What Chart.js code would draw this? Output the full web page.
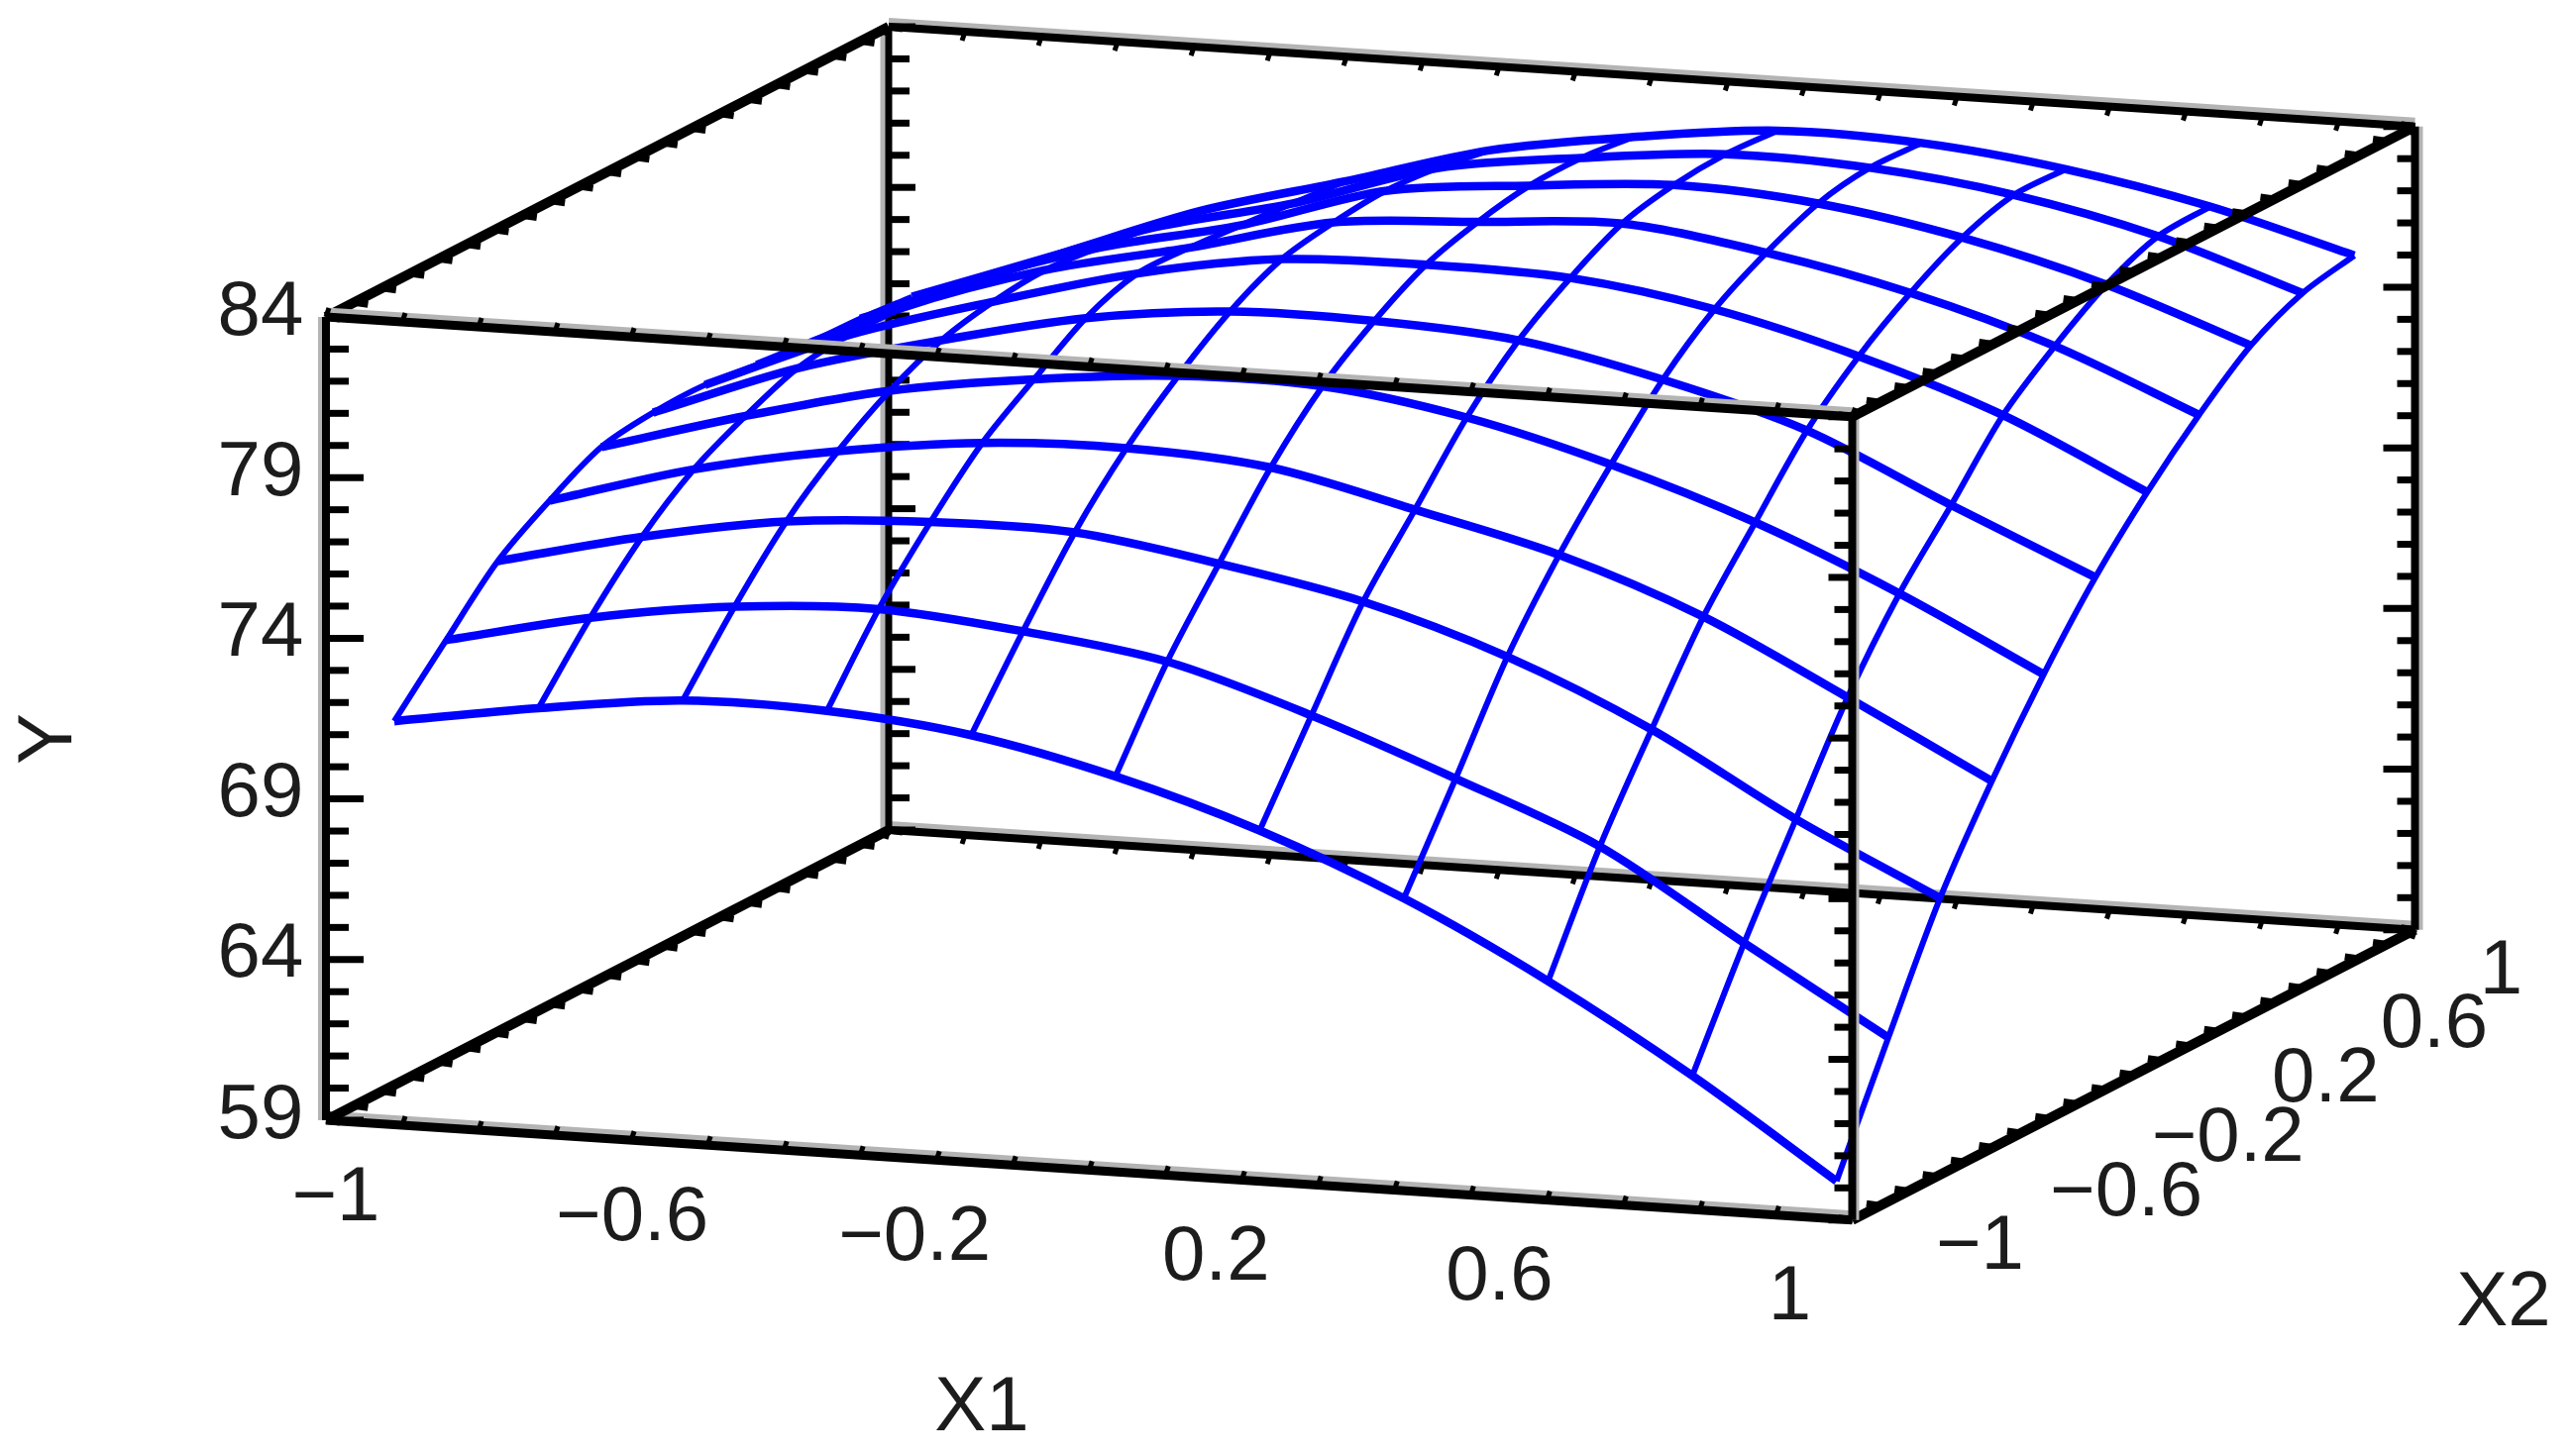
<!DOCTYPE html>
<html>

<head>
    <title>Response surface Y over X1 and X2</title>
    <style>
        body { margin: 0; background: #fff; overflow: hidden; }
        canvas { display: block; filter: blur(0.7px); }
    </style>
</head>

<body>
    <canvas id="myChart" width="2598" height="1470"></canvas>
    <script src="https://cdn.jsdelivr.net/npm/chart.js@4"></script>

    <script type="text/javascript">
        // grid positions of the surface
        const x1Grid = [-0.94, -0.751, -0.562, -0.373, -0.184, 0.005, 0.194, 0.383, 0.572, 0.761, 0.95];
        const x2Grid = [-0.92, -0.736, -0.552, -0.368, -0.184, 0, 0.184, 0.368, 0.552, 0.736, 0.92];

        // Y along X2, one list per X1 grid position
        const yRow0 = [71.15, 72.84, 74.47, 75.52, 76.36, 76.60, 76.63, 76.42, 76.26, 76.20, 76.05];
        const yRow1 = [71.85, 73.83, 75.52, 76.79, 77.62, 78.27, 78.48, 78.48, 78.33, 77.96, 77.65];
        const yRow2 = [72.38, 74.47, 76.29, 77.65, 78.70, 79.44, 79.81, 79.96, 79.81, 79.59, 79.31];
        const yRow3 = [72.35, 74.69, 76.57, 78.20, 79.35, 80.42, 80.98, 80.95, 80.82, 80.67, 80.52];
        const yRow4 = [71.89, 74.29, 76.54, 78.33, 79.75, 80.92, 81.72, 82.03, 82.18, 82.06, 81.78];
        const yRow5 = [70.90, 73.64, 75.86, 78.02, 79.72, 80.92, 81.84, 82.34, 82.64, 82.67, 82.49];
        const yRow6 = [69.51, 72.26, 74.97, 77.00, 79.04, 80.61, 81.72, 82.58, 82.95, 83.08, 82.98];
        const yRow7 = [67.69, 70.59, 73.55, 75.89, 77.87, 79.68, 81.04, 81.97, 82.67, 82.95, 82.89];
        const yRow8 = [65.41, 68.77, 71.58, 74.26, 76.36, 78.39, 79.87, 81.01, 81.90, 82.40, 82.37];
        const yRow9 = [62.76, 66.06, 69.08, 72.04, 74.44, 76.36, 78.33, 79.65, 80.73, 81.41, 81.50];
        const yRow10 = [59.77, 63.41, 66.92, 69.73, 72.22, 74.41, 76.23, 77.80, 79.13, 79.93, 80.27];
        const yRows = [yRow0, yRow1, yRow2, yRow3, yRow4, yRow5, yRow6, yRow7, yRow8, yRow9, yRow10];

        // tick labels
        const x1Labels = ['−1', '−0.6', '−0.2', '0.2', '0.6', '1'];
        const x1LabelAt = [-1, -0.6, -0.2, 0.2, 0.6, 1];
        const x2Labels = ['−1', '−0.6', '−0.2', '0.2', '0.6', '1'];
        const x2LabelAt = [-1, -0.6, -0.2, 0.2, 0.6, 1];
        const yLabels = ['59', '64', '69', '74', '79', '84'];
        const yLabelAt = [59, 64, 69, 74, 79, 84];

        // tick positions
        const xTicks = [-1, -0.9, -0.8, -0.7, -0.6, -0.5, -0.4, -0.3, -0.2, -0.1, 0, 0.1, 0.2, 0.3, 0.4, 0.5, 0.6, 0.7, 0.8, 0.9, 1];
        const yTicks = [59, 60, 61, 62, 63, 64, 65, 66, 67, 68, 69, 70, 71, 72, 73, 74, 75, 76, 77, 78, 79, 80, 81, 82, 83, 84];

        const BLACK = '#000000';
        const SHADE = '#b4b4b4';
        const BLUE = '#0000ff';
        const TEXT = '#1c1c1c';

        // the 3d view: a fixed oblique projection onto the page
        function project(x1, x2, y) {
            const u = (x1 + 1) / 2;
            const v = (x2 + 1) / 2;
            const w = (y - 59) / 25;
            return {
                x: 329 + 1540.5 * u + 568 * v,
                y: 1131 + 100.75 * u - 293 * v - 811 * w
            };
        }

        function lineSet(points, color, width, order, tension) {
            return {
                data: points,
                showLine: true,
                fill: false,
                borderColor: color,
                borderWidth: width,
                borderCapStyle: 'butt',
                borderJoinStyle: 'round',
                pointRadius: 0,
                tension: tension || 0,
                order: order
            };
        }

        // order: lower is painted later. front edges sit on the surface, back edges below
        const FRONT = 1, SURFACE = 2, BACK = 3;
        const datasets = [];

        // ox, oy: where the soft grey fringe of an edge lies
        function edge(a, b, order, width, ox, oy) {
            const p = project(...a);
            const q = project(...b);
            datasets.push(lineSet([p, q], BLACK, width, order));
            if (ox || oy) {
                datasets.push(lineSet([{ x: p.x + ox, y: p.y + oy }, { x: q.x + ox, y: q.y + oy }], SHADE, width, order + 0.5));
            }
        }
        function tick(p, dx, dy, width, order) {
            datasets.push(lineSet([p, { x: p.x + dx, y: p.y + dy }], BLACK, width, order));
        }

        // box
        edge([-1, -1, 59], [1, -1, 59], BACK, 9, 0, -5);
        edge([1, -1, 59], [1, 1, 59], BACK, 10, 0, 0);
        edge([1, 1, 59], [-1, 1, 59], BACK, 8, 0, -5);
        edge([-1, 1, 59], [-1, -1, 59], BACK, 10, 0, 0);
        edge([-1, -1, 84], [1, -1, 84], FRONT, 9, 0, -5);
        edge([1, -1, 84], [1, 1, 84], FRONT, 10, 0, 0);
        edge([1, 1, 84], [-1, 1, 84], BACK, 8, 0, -5);
        edge([-1, 1, 84], [-1, -1, 84], BACK, 10, 0, 0);
        edge([-1, -1, 59], [-1, -1, 84], BACK, 8, -4, 0);
        edge([1, -1, 59], [1, -1, 84], FRONT, 8, 3, 0);
        edge([1, 1, 59], [1, 1, 84], BACK, 8, 4, 0);
        edge([-1, 1, 59], [-1, 1, 84], BACK, 7, -5, 0);

        // ticks on the four uprights, long ones every 5 units
        yTicks.forEach(v => {
            const major = (v - 59) % 5 === 0;
            tick(project(-1, -1, v), major ? 38 : 23, 0, 7, BACK);
            tick(project(-1, 1, v), major ? 27 : 21, 0, 7, BACK);
            tick(project(1, -1, v), major ? -24 : -18, 0, 7, FRONT);
            tick(project(1, 1, v), major ? -32 : -18, 0, 7, BACK);
        });

        // small ticks along the horizontal edges
        xTicks.forEach(v => {
            tick(project(v, -1, 59), 3, -9, 5, BACK);
            tick(project(v, -1, 84), 3, -9, 5, FRONT);
            tick(project(v, 1, 59), -3, 9, 5, BACK);
            tick(project(v, 1, 84), -3, 9, 5, BACK);
            tick(project(-1, v, 59), 14, 2, 7, BACK);
            tick(project(-1, v, 84), 14, 2, 7, BACK);
            tick(project(1, v, 59), -14, -2, 7, BACK);
            tick(project(1, v, 84), -14, -2, 7, FRONT);
        });

        // surface mesh
        x2Grid.forEach((x2, j) => {
            datasets.push(lineSet(x1Grid.map((x1, i) => project(x1, x2, yRows[i][j])), BLUE, 8.5, SURFACE, 0.3));
        });
        x1Grid.forEach((x1, i) => {
            datasets.push(lineSet(x2Grid.map((x2, j) => project(x1, x2, yRows[i][j])), BLUE, 6, SURFACE, 0.3));
        });

        // axis text is painted with the chart's own scales
        const axisText = {
            id: 'axisText',
            afterDatasetsDraw(chart) {
                const c = chart.ctx;
                const sx = chart.scales.x;
                const sy = chart.scales.y;
                c.save();
                c.fillStyle = TEXT;
                c.font = '78px "Liberation Sans"';
                c.textAlign = 'center';
                c.textBaseline = 'middle';
                const put = (s, p, dx, dy) => c.fillText(s, sx.getPixelForValue(p.x + dx), sy.getPixelForValue(p.y + dy));

                const x1Shift = [10, 1, -22, -26, -48, -63];
                x1Labels.forEach((s, k) => put(s, project(x1LabelAt[k], -1, 59), x1Shift[k], 79));
                const x2Shift = [129, 163, 152, 137, 133, 87];
                const x2Drop = [28, 32, 36, 35, 38, 43];
                x2Labels.forEach((s, k) => put(s, project(1, x2LabelAt[k], 59), x2Shift[k], x2Drop[k]));
                yLabels.forEach((s, k) => put(s, project(-1, -1, yLabelAt[k]), -66, -4));

                c.fillText('X1', sx.getPixelForValue(991), sy.getPixelForValue(1422));
                c.fillText('X2', sx.getPixelForValue(2527), sy.getPixelForValue(1316));
                c.translate(sx.getPixelForValue(50), sy.getPixelForValue(746));
                c.rotate(-Math.PI / 2);
                c.fillText('Y', 0, 0);
                c.restore();
            }
        };

        new Chart(document.getElementById('myChart').getContext('2d'), {
            type: 'scatter',
            data: { datasets: datasets },
            plugins: [axisText],
            options: {
                responsive: false,
                animation: false,
                layout: { padding: 0 },
                plugins: { legend: { display: false }, tooltip: { enabled: false } },
                scales: {
                    x: { type: 'linear', min: 0, max: 2598, display: false },
                    y: { type: 'linear', min: 0, max: 1470, reverse: true, display: false }
                }
            }
        });
    </script>
</body>

</html>
